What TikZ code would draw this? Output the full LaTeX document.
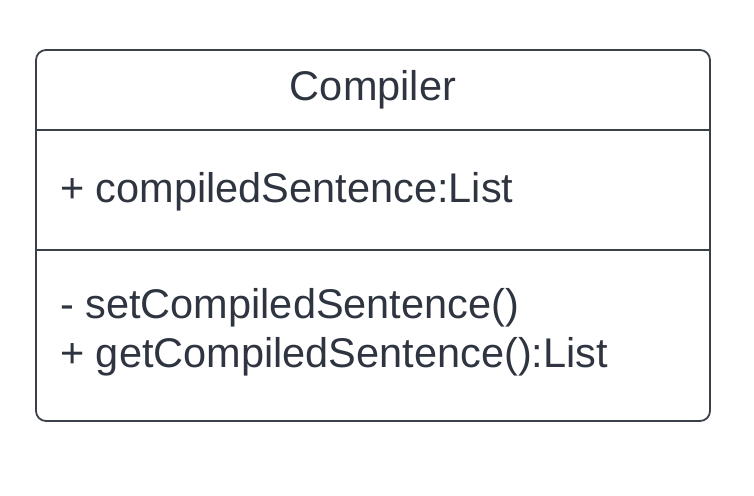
\documentclass[tikz,border=0pt]{standalone}
\usepackage{fontspec}
\setmainfont{Liberation Sans}
\definecolor{txt}{HTML}{2F3540}
\definecolor{ln}{HTML}{3A414B}
\begin{document}
\begin{tikzpicture}[x=1pt,y=-1pt,
  umlbox/.style={draw=ln,line width=1.8pt,rounded corners=10pt},
  divider/.style={draw=ln,line width=1.8pt},
  umltext/.style={text=txt,font=\fontsize{41.5}{48}\selectfont,inner sep=0pt,anchor=base west}]
\useasboundingbox (0,0) rectangle (754,495);
\draw[umlbox] (36,50) rectangle (710,421);
\coordinate (d1l) at (36,130);
\coordinate (d1r) at (710,130);
\coordinate (d2l) at (36,250);
\coordinate (d2r) at (710,250);
\draw[divider] (d1l) -- (d1r);
\draw[divider] (d2l) -- (d2r);
\node[umltext,anchor=base] (title) at (373,100) {Compiler};
\node[umltext] (attr) at (60,202) {+ compiledSentence:List};
\node[umltext] (m1) at (60,318) {- setCompiledSentence()};
\node[umltext] (m2) at (60,367) {+ getCompiledSentence():List};
\end{tikzpicture}
\end{document}
